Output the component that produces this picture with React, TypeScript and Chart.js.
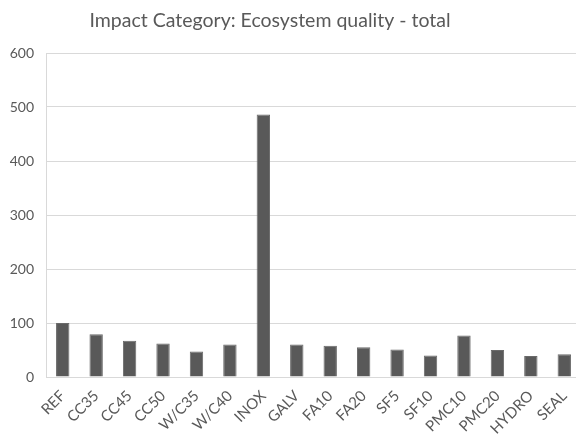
import React, { useEffect, useRef } from "react";
import { Chart, registerables } from "chart.js";

Chart.register(...registerables);

// Impact results per mix design (ecosystem quality, total)
const categories = [
  "REF", "CC35", "CC45", "CC50", "W/C35", "W/C40", "INOX", "GALV",
  "FA10", "FA20", "SF5", "SF10", "PMC10", "PMC20", "HYDRO", "SEAL",
];
const totals = [100, 79, 67, 62, 47, 60, 486, 60, 58, 55, 51, 40, 77, 50, 39, 42];
const yTicks = [0, 100, 200, 300, 400, 500, 600];
const chartTitle = "Impact Category: Ecosystem quality - total";

const TEXT = "#595959";
const GRID = "#d9d9d9";
const FONT = "Lato";

// Draws the heading a little left of the plot centre, as in the source sheet
const headingPlugin = {
  id: "heading",
  afterDraw(chart: any) {
    const { ctx } = chart;
    ctx.save();
    ctx.font = `19.5px ${FONT}`;
    ctx.fillStyle = TEXT;
    ctx.textAlign = "center";
    ctx.textBaseline = "alphabetic";
    ctx.fillText(chartTitle, 270, 27);
    ctx.restore();
  },
};

export default function App() {
  const canvasRef = useRef<HTMLCanvasElement | null>(null);

  useEffect(() => {
    const canvas = canvasRef.current;
    if (!canvas) return;
    const chart = new Chart(canvas, {
      type: "bar",
      data: {
        labels: categories,
        datasets: [
          {
            label: chartTitle,
            data: totals,
            backgroundColor: "#595959",
            borderColor: "#6a6a6a",
            borderWidth: 1,
            barPercentage: 0.4,
            categoryPercentage: 1,
          },
        ],
      },
      options: {
        responsive: false,
        animation: false,
        layout: { padding: { top: 53, left: 0, right: 0, bottom: 0 } },
        plugins: {
          legend: { display: false },
          title: { display: false },
          tooltip: { enabled: false },
        },
        scales: {
          x: {
            grid: { display: false, drawTicks: false },
            border: { display: true, color: GRID, width: 1 },
            ticks: {
              color: TEXT,
              font: { family: FONT, size: 15 },
              maxRotation: 45,
              minRotation: 45,
              autoSkip: false,
              padding: 10,
            },
            afterFit: (scale: any) => {
              scale.height = 64;
              scale.paddingRight = 0;
            },
          },
          y: {
            min: 0,
            max: 600,
            grid: { color: GRID, lineWidth: 1, drawTicks: false },
            border: { display: true, color: GRID, width: 1 },
            ticks: {
              color: TEXT,
              font: { family: FONT, size: 14 },
              padding: 12,
            },
            afterBuildTicks: (scale: any) => {
              scale.ticks = yTicks.map((v) => ({ value: v }));
            },
            afterFit: (scale: any) => {
              scale.width = 46;
            },
          },
        },
      },
      plugins: [headingPlugin],
    });
    return () => chart.destroy();
  }, []);

  return (
    <div
      style={{
        position: "fixed",
        left: 0,
        top: 0,
        width: 576,
        height: 441,
        overflow: "hidden",
        background: "#ffffff",
      }}
    >
      <canvas ref={canvasRef} width={581} height={441} style={{ display: "block" }} />
    </div>
  );
}
